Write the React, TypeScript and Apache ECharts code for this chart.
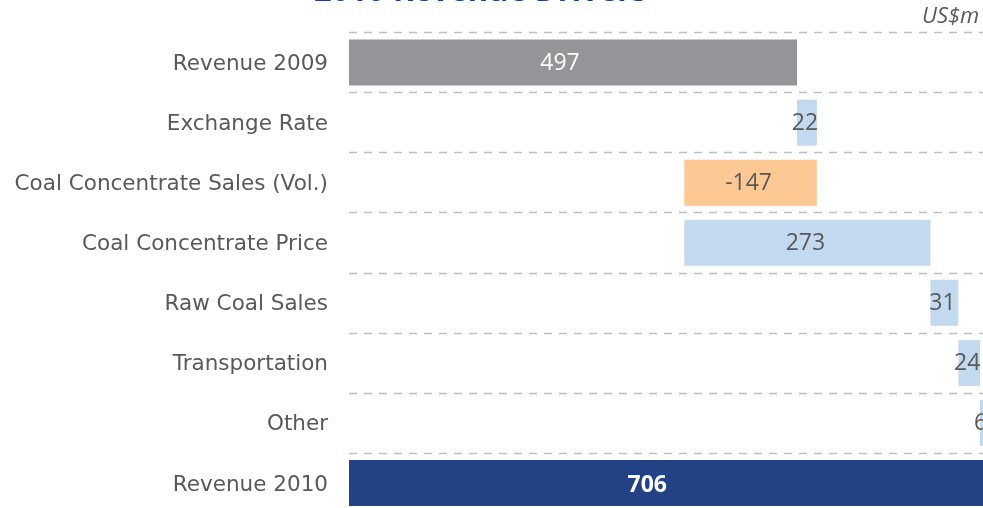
import React, { useEffect, useRef } from "react";
import * as echarts from "echarts";

const categories = [
  "Revenue 2009",
  "Exchange Rate",
  "Coal Concentrate Sales (Vol.)",
  "Coal Concentrate Price",
  "Raw Coal Sales",
  "Transportation",
  "Other",
  "Revenue 2010",
];
const values = [497, 22, -147, 273, 31, 24, 6, 706];
const isTotal = [true, false, false, false, false, false, false, true];

const FONT = "Open Sans";
const LABEL_FONT = "DejaVu Sans";
const GREY_TEXT = "#595959";

export default function App() {
  const ref = useRef<HTMLDivElement>(null);
  useEffect(() => {
    if (!ref.current) return;
    const chart = echarts.init(ref.current, null, { renderer: "svg" });

    const base: number[] = [];
    const size: any[] = [];
    let cum = 0;
    values.forEach((v, i) => {
      let color = "#C2D9EF";
      if (isTotal[i]) {
        base.push(0);
        cum = v;
        color = i === 0 ? "#939598" : "#234286";
        size.push({ value: v, itemStyle: { color } });
      } else if (v >= 0) {
        base.push(cum);
        cum += v;
        size.push({ value: v, itemStyle: { color } });
      } else {
        cum += v;
        base.push(cum);
        size.push({ value: -v, itemStyle: { color: "#FCC995" } });
      }
    });

    const last = values.length - 1;
    const sizeData = size.map((d, i) => ({
      value: d.value,
      itemStyle: d.itemStyle,
      label: {
        formatter: String(values[i]),
        color: isTotal[i] ? "#ffffff" : GREY_TEXT,
        fontWeight: i === last ? "bold" : "normal",
        offset: i === 0 ? [-13, -2] : i === last ? [-20, 0] : [-2, -2],
      },
    }));

    chart.setOption({
      animation: false,
      title: {
        text: "2010 Revenue Drivers",
        left: 314,
        top: -27,
        padding: 0,
        textStyle: {
          fontFamily: FONT,
          fontSize: 31,
          fontWeight: "bold",
          color: "#223F86",
        },
      },
      graphic: [
        {
          type: "text",
          left: 922,
          top: 3,
          style: {
            text: "US$m",
            fontFamily: FONT,
            fontStyle: "italic",
            fontSize: 22,
            fill: GREY_TEXT,
          },
        },
      ],
      grid: { left: 349, right: 0.6, top: 32.5, bottom: 0.9, containLabel: false },
      xAxis: {
        type: "value",
        min: 0,
        max: 706,
        show: false,
      },
      yAxis: {
        type: "category",
        data: categories,
        inverse: true,
        axisLine: { show: false },
        axisTick: { show: false },
        axisLabel: {
          fontFamily: LABEL_FONT,
          fontSize: 21.5,
          color: GREY_TEXT,
          margin: 21,
        },
        splitLine: {
          show: true,
          lineStyle: { color: "#bfbfbf", type: [8, 7], width: 1.3 },
        },
      },
      series: [
        {
          type: "bar",
          stack: "w",
          data: base,
          barWidth: 46,
          itemStyle: { color: "transparent" },
          silent: true,
        },
        {
          type: "bar",
          stack: "w",
          data: sizeData,
          barWidth: 46,
          label: {
            show: true,
            position: "inside",
            fontFamily: FONT,
            fontSize: 23,
          },
        },
      ],
    });
    return () => chart.dispose();
  }, []);
  return (
    <div
      ref={ref}
      style={{ position: "fixed", left: 0, top: 0, width: 986, height: 514 }}
    />
  );
}
